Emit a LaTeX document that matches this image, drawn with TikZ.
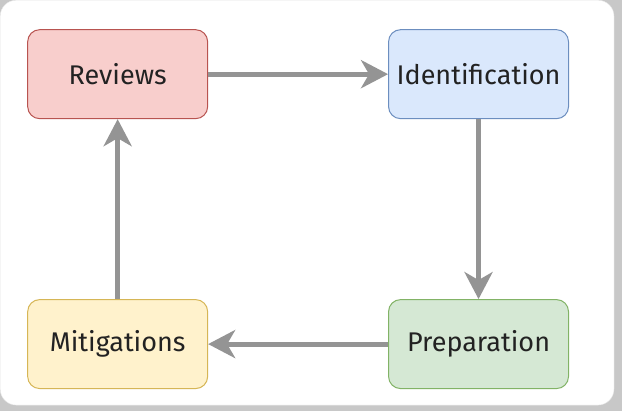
\documentclass[tikz,border=0pt]{standalone}
\usepackage{fontspec}
\setmainfont{Fira Sans}
\usepackage{xcolor}
\usetikzlibrary{arrows.meta, positioning}

\definecolor{revfill}{HTML}{F8CECC}
\definecolor{revline}{HTML}{B85450}
\definecolor{idefill}{HTML}{DAE8FC}
\definecolor{ideline}{HTML}{6C8EBF}
\definecolor{prefill}{HTML}{D5E8D4}
\definecolor{preline}{HTML}{82B366}
\definecolor{mitfill}{HTML}{FFF2CC}
\definecolor{mitline}{HTML}{D6B656}
\definecolor{flowgray}{HTML}{949494}
\definecolor{cardshadow}{HTML}{C8C8C8}
\definecolor{textdark}{HTML}{222222}

\begin{document}
\begin{tikzpicture}[
  x=1pt, y=-1pt,
  node distance=180pt,
  box/.style={rectangle, draw, rounded corners=12pt, line width=1pt, minimum width=180pt, minimum height=89pt, font=\fontsize{27}{31}\selectfont, text=textdark},
  arrow/.style={-{Stealth[length=27pt, width=28pt, inset=8pt]}, line width=5pt, draw=flowgray},
]
  % card
  \fill[cardshadow] (0,0) rectangle (622,411);
  \filldraw[white, draw=gray!20, rounded corners=16pt] (0,0) rectangle (614,405);

  \node[box, fill=revfill, draw=revline] (rev) at (117.5,74) {Reviews};
  \node[box, fill=idefill, draw=ideline, right=of rev] (ide) {Identification};
  \node[box, fill=prefill, draw=preline, below=of ide] (pre) {Preparation};
  \node[box, fill=mitfill, draw=mitline, left=of pre] (mit) {Mitigations};

  \draw[arrow] (rev) -- (ide);
  \draw[arrow] (ide) -- (pre);
  \draw[arrow] (pre) -- (mit);
  \draw[arrow] (mit) -- (rev);
\end{tikzpicture}
\end{document}
